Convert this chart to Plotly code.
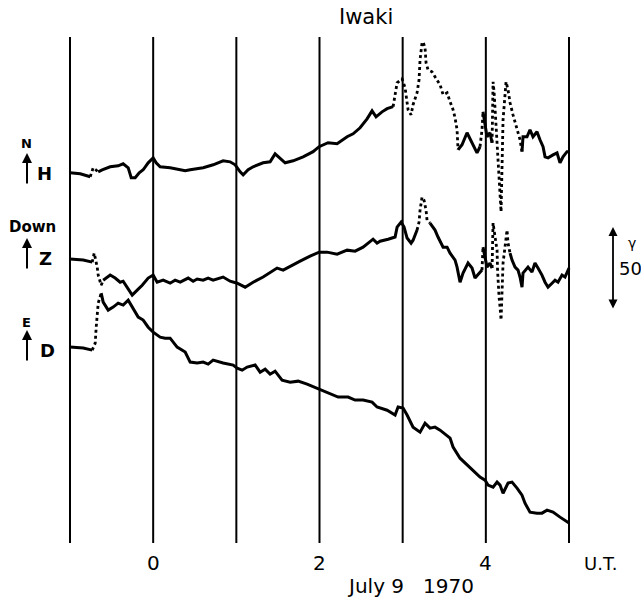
import plotly.graph_objects as go

# ---------------- data (hours UT, July 9 1970; values in gamma) ----------------
H_T = [-1.00, -0.877, -0.757, -0.721, -0.661, -0.613, -0.517, -0.421, -0.361, -0.300,
       -0.264, -0.216, -0.168, -0.120, -0.060, 0.000, 0.036, 0.084, 0.204, 0.325,
       0.385, 0.445, 0.529, 0.601, 0.721, 0.841, 0.925, 0.986, 1.046, 1.082,
       1.142, 1.202, 1.322, 1.406, 1.466, 1.526, 1.587, 1.683, 1.803, 1.923,
       1.995, 2.103, 2.212, 2.332, 2.404, 2.488, 2.572, 2.632, 2.680, 2.752,
       2.813, 2.885, 2.909, 2.933, 2.993, 3.029, 3.065, 3.101, 3.125, 3.173,
       3.197, 3.209, 3.233, 3.245, 3.269, 3.281, 3.305, 3.353, 3.389, 3.413,
       3.450, 3.486, 3.534, 3.570, 3.606, 3.630, 3.654, 3.666, 3.714, 3.774,
       3.834, 3.894, 3.930, 3.954, 3.966, 4.014, 4.050, 4.075, 4.087, 4.099,
       4.111, 4.123, 4.135, 4.141, 4.147, 4.159, 4.171, 4.183, 4.207, 4.231,
       4.243, 4.267, 4.291, 4.327, 4.351, 4.375, 4.411, 4.435, 4.447, 4.495,
       4.531, 4.567, 4.615, 4.651, 4.688, 4.712, 4.748, 4.808, 4.856, 4.892,
       4.928, 4.976, 5.000]
H_V = [0.0, -0.6, -2.4, 3.0, 0.6, 1.8, 3.6, 4.2, 5.4, 3.0,
       -3.0, -3.0, 0.0, 1.8, 6.0, 9.0, 6.0, 3.6, 3.0, 1.8,
       1.2, 1.8, 2.4, 3.0, 4.8, 7.2, 6.6, 4.8, 0.6, -1.2,
       1.8, 3.6, 6.0, 6.6, 11.4, 9.0, 6.0, 7.2, 9.6, 12.7,
       15.7, 18.1, 17.5, 21.7, 23.5, 27.1, 32.5, 37.3, 33.7, 36.7,
       38.6, 39.8, 47.0, 54.2, 56.6, 51.2, 38.0, 34.9, 41.0, 48.2,
       56.0, 68.1, 78.3, 78.9, 75.3, 66.3, 62.0, 60.8, 57.8, 56.0,
       53.0, 47.0, 48.2, 42.8, 38.0, 33.1, 25.9, 13.9, 16.9, 24.1,
       18.1, 12.0, 15.7, 25.9, 36.7, 21.7, 24.1, 18.1, 54.8, 48.8,
       38.0, 28.9, 19.9, 9.6, 1.8, -5.4, -13.3, -23.5, 31.9, 45.8,
       54.8, 50.0, 42.2, 34.9, 30.7, 27.1, 19.9, 12.7, 21.7, 21.7,
       25.9, 21.7, 24.7, 19.9, 15.7, 9.6, 9.0, 10.8, 12.0, 6.0,
       9.6, 12.7, 12.7]

Z_T = [-1.00, -0.841, -0.733, -0.709, -0.673, -0.661, -0.625, -0.601, -0.517, -0.457,
       -0.397, -0.361, -0.313, -0.252, -0.192, -0.132, -0.060, 0.000, 0.048, 0.120,
       0.204, 0.264, 0.325, 0.421, 0.481, 0.529, 0.601, 0.661, 0.721, 0.841,
       0.925, 1.010, 1.106, 1.202, 1.322, 1.442, 1.490, 1.563, 1.647, 1.767,
       1.887, 1.995, 2.091, 2.212, 2.332, 2.428, 2.524, 2.608, 2.644, 2.692,
       2.728, 2.825, 2.909, 2.933, 2.981, 3.017, 3.053, 3.101, 3.125, 3.173,
       3.197, 3.209, 3.233, 3.257, 3.281, 3.293, 3.329, 3.365, 3.389, 3.425,
       3.486, 3.534, 3.570, 3.630, 3.654, 3.690, 3.726, 3.786, 3.834, 3.870,
       3.906, 3.954, 3.966, 4.014, 4.050, 4.075, 4.087, 4.111, 4.135, 4.141,
       4.147, 4.159, 4.171, 4.183, 4.207, 4.231, 4.255, 4.267, 4.291, 4.315,
       4.351, 4.387, 4.411, 4.435, 4.447, 4.507, 4.555, 4.591, 4.627, 4.675,
       4.712, 4.748, 4.796, 4.832, 4.868, 4.916, 4.952, 4.988, 5.000]
Z_V = [0.0, -0.6, -1.8, 3.6, -4.8, -9.6, -15.7, -12.7, -9.6, -11.4,
       -13.9, -13.3, -16.9, -21.7, -18.7, -15.7, -11.4, -9.6, -13.9, -12.7,
       -14.5, -12.7, -13.9, -11.4, -13.3, -12.0, -12.7, -11.4, -12.7, -10.8,
       -13.3, -14.5, -16.9, -13.9, -10.8, -6.6, -5.4, -6.6, -4.2, -1.2,
       1.8, 4.2, 4.2, 3.0, 5.4, 4.8, 7.2, 10.2, 12.0, 9.6,
       10.8, 12.0, 13.3, 19.3, 22.3, 19.3, 12.7, 9.6, 11.4, 17.5,
       22.3, 29.5, 37.3, 35.5, 29.5, 23.5, 21.7, 18.7, 17.5, 13.3,
       7.2, 7.2, 3.6, -0.6, -4.8, -13.9, -8.4, -2.4, -5.4, -11.4,
       -9.6, -6.6, 7.2, -4.8, -2.4, -5.4, 21.7, 13.3, 5.4, -6.6,
       -14.5, -22.9, -28.9, -36.7, -2.4, 9.6, 17.5, 9.6, 3.6, -0.6,
       -4.8, -6.6, -10.8, -16.9, -8.4, -4.8, -7.8, -2.4, -5.4, -9.6,
       -13.9, -16.9, -14.5, -12.7, -13.9, -9.6, -10.8, -6.6, -5.4]

D_T = [-1.00, -0.841, -0.733, -0.697, -0.685, -0.673, -0.661, -0.625, -0.601, -0.541,
       -0.481, -0.421, -0.361, -0.300, -0.240, -0.180, -0.120, -0.060, 0.000, 0.084,
       0.144, 0.204, 0.288, 0.385, 0.445, 0.529, 0.601, 0.661, 0.721, 0.841,
       0.962, 1.010, 1.070, 1.130, 1.226, 1.286, 1.346, 1.406, 1.466, 1.550,
       1.647, 1.743, 1.851, 1.995, 2.103, 2.224, 2.344, 2.428, 2.524, 2.632,
       2.692, 2.813, 2.909, 2.945, 3.005, 3.053, 3.125, 3.209, 3.269, 3.329,
       3.389, 3.450, 3.570, 3.606, 3.690, 3.774, 3.846, 3.930, 3.990, 4.026,
       4.087, 4.135, 4.171, 4.207, 4.267, 4.315, 4.375, 4.435, 4.471, 4.531,
       4.615, 4.675, 4.736, 4.808, 4.892, 5.000]
D_V = [0.0, -0.6, -1.8, 2.4, 12.0, 20.5, 26.5, 32.5, 27.1, 22.3,
       24.1, 26.5, 25.3, 28.3, 23.5, 18.1, 16.3, 12.0, 9.0, 6.0,
       5.4, 5.4, 0.0, -3.0, -9.0, -9.6, -9.0, -10.2, -7.8, -9.6,
       -10.8, -12.7, -13.9, -12.0, -10.8, -15.1, -13.3, -16.3, -14.5, -19.9,
       -21.1, -20.5, -22.3, -25.3, -27.7, -30.1, -30.1, -31.9, -31.9, -33.1,
       -36.1, -38.0, -40.9, -36.1, -36.7, -40.9, -48.2, -51.2, -45.8, -48.8,
       -48.2, -50.0, -54.8, -60.2, -66.9, -71.1, -74.1, -78.3, -80.1, -83.1,
       -84.3, -81.3, -83.1, -88.0, -81.9, -81.3, -84.9, -89.2, -94.0, -99.4,
       -100.0, -100.0, -98.2, -99.4, -102.4, -106.0]

HOUR_LINES = [-1, 0, 1, 2, 3, 4, 5]
HOUR_LABELS = {0: "0", 2: "2", 4: "4"}
SCALE_GAMMA = 50

# ---------------- presentation ----------------
OFFSETS = {"H": 223, "Z": 171, "D": 118}
DOTTED = {
    "H": [(-0.757, -0.661), (2.885, 3.666), (3.930, 3.966), (4.075, 4.435)],
    "Z": [(-0.733, -0.601), (3.173, 3.329), (3.954, 3.966), (4.075, 4.291)],
    "D": [(-0.733, -0.625)],
}
FONT = "DejaVu Sans, sans-serif"
W, H = 641, 603
ML, MR, MT, MB = 50, 50, 30, 53
XR = [-1.2405, 5.2645]
YR = [-4.2, 309.0]


def ppx(x):
    return (x - ML) / (W - ML - MR)


def ppy(y):
    return (H - MB - y) / (H - MT - MB)


fig = go.Figure()


def add_component(name, ts, vs):
    n = min(len(ts), len(vs))
    ivs = DOTTED[name]

    def is_dot(i):
        m = 0.5 * (ts[i] + ts[i + 1])
        return any(a <= m <= b for a, b in ivs)

    start = 0
    cur = is_dot(0)
    for i in range(1, n):
        style_change = (i == n - 1) or (is_dot(i) != cur)
        if style_change:
            xs = ts[start:i + 1]
            ys = [v + OFFSETS[name] for v in vs[start:i + 1]]
            fig.add_trace(go.Scatter(
                x=xs, y=ys, mode="lines", hoverinfo="skip",
                line=dict(color="black", width=3 if not cur else 2.8,
                          dash="dot" if cur else "solid"),
                showlegend=False))
            start = i
            if i < n - 1:
                cur = is_dot(i)


add_component("H", H_T, H_V)
add_component("Z", Z_T, Z_V)
add_component("D", D_T, D_V)

shapes = []
for h in HOUR_LINES:
    shapes.append(dict(type="line", xref="x", yref="y", x0=h, x1=h, y0=0, y1=304.8,
                       line=dict(color="black", width=2)))


def text_ann(x, y, txt, size, xref="paper", weight="normal"):
    return dict(x=x, xref=xref, y=y, yref="paper", text=txt, showarrow=False,
                xanchor="center", yanchor="middle",
                font=dict(size=size, family=FONT, color="black", weight=weight))


ann = []
for h, lab in HOUR_LABELS.items():
    ann.append(text_ann(h, ppy(563), lab, 20, xref="x"))
ann.append(text_ann(ppx(600), ppy(563), "U.T.", 18))
ann.append(text_ann(ppx(410), ppy(586), "July 9&nbsp;&nbsp;&nbsp;1970", 20))
ann.append(text_ann(ppx(366), ppy(17), "Iwaki", 21))

# component labels with arrows
for txt, xx, yy, sz in [("N", 26, 143, 13), ("H", 44, 173, 18), ("Down", 32, 227, 15),
                        ("Z", 45, 258, 18), ("E", 26, 322, 13), ("D", 47, 350, 18)]:
    ann.append(text_ann(ppx(xx), ppy(yy), txt, sz, weight="bold"))
for head, tail in [(153, 185), (238, 270), (330, 362)]:
    ann.append(dict(x=ppx(27), xref="paper", y=ppy(head), yref="paper", text="",
                    showarrow=True, ax=0, ay=tail - head, arrowhead=2, arrowsize=1,
                    arrowwidth=2, arrowcolor="black"))

# scale bar (50 gamma)
ann.append(dict(x=ppx(613), xref="paper", y=ppy(227), yref="paper", text="",
                showarrow=True, ax=0, ay=83, arrowhead=2, arrowside="end+start",
                arrowsize=1, arrowwidth=1.8, arrowcolor="black"))
ann.append(text_ann(ppx(632), ppy(243), "γ", 14))
ann.append(text_ann(ppx(630), ppy(268), str(SCALE_GAMMA), 18))

fig.update_layout(
    width=W, height=H,
    margin=dict(l=ML, r=MR, t=MT, b=MB),
    paper_bgcolor="white", plot_bgcolor="white",
    xaxis=dict(range=XR, visible=False, fixedrange=True),
    yaxis=dict(range=YR, visible=False, fixedrange=True),
    shapes=shapes, annotations=ann, showlegend=False,
)

fig.write_html("out.html")
